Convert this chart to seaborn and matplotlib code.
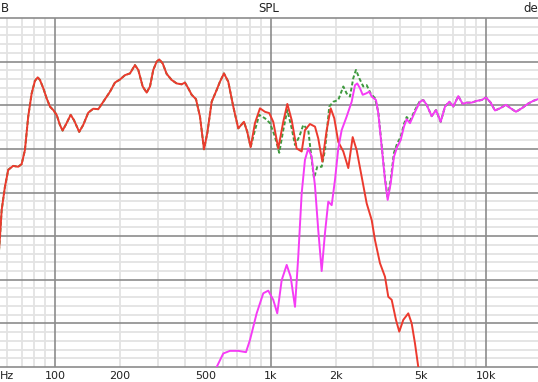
import numpy as np
import pandas as pd
import seaborn as sns
import matplotlib
matplotlib.use("Agg")
import matplotlib.pyplot as plt
from matplotlib.ticker import MultipleLocator, FixedLocator, NullFormatter, FuncFormatter

# ---------------- data ----------------
woofer_hz = [54.5, 55.4, 56.4, 58.4, 60.5, 63.8, 67.3, 69.8, 72.3, 74.9, 77.7, 80.5, 82.9, 84.9,
             88.0, 91.2, 94.5, 97.9, 101.5, 105.1, 108.2, 112.9, 117.9, 122.1, 129.2, 134.9,
             142.3, 150.1, 158.4, 167.1, 179.5, 189.3, 199.7, 210.7, 222.3, 234.4, 242.9,
             254.6, 265.7, 275.3, 285.1, 295.7, 304.0, 315.2, 328.9, 347.0, 366.1, 386.2,
             400.0, 414.5, 429.8, 450.1, 469.8, 490.3, 507.9, 532.3, 561.5, 581.6, 607.0,
             635.6, 670.5, 707.3, 751.7, 778.7, 807.4, 845.5, 891.9, 940.9, 985.1, 1028,
             1085, 1144, 1195, 1252, 1320, 1393, 1443, 1522, 1606, 1663, 1737, 1820, 1900,
             1974, 2060, 2174, 2293, 2403, 2508, 2646, 2791, 2944, 3050, 3217, 3394, 3516,
             3646, 3817, 3954, 4127, 4354, 4515, 4677, 4845, 4934]
woofer_db = [45.0, 49.9, 56.0, 61.3, 65.2, 66.1, 65.9, 66.5, 69.7, 77.4, 82.7, 85.6, 86.4, 85.8,
             83.9, 81.6, 79.7, 78.9, 77.8, 75.5, 74.2, 75.9, 77.8, 76.6, 73.9, 75.5,
             78.3, 79.2, 79.1, 80.8, 83.1, 85.2, 85.9, 86.9, 87.3, 89.2, 88.1,
             84.3, 82.9, 84.3, 88.1, 90.0, 90.5, 89.6, 87.2, 85.8, 85.0, 84.8,
             85.2, 83.9, 82.4, 81.4, 77.4, 69.9, 73.6, 80.8, 83.5, 85.4, 87.3,
             85.4, 79.7, 74.7, 76.2, 73.9, 70.4, 75.9, 79.3, 78.5, 78.2, 76.2,
             70.1, 76.2, 80.3, 76.6, 70.1, 69.4, 74.3, 75.7, 75.1, 72.4, 67.1, 74.3, 79.3,
             77.0, 71.6, 69.4, 65.6, 72.7, 69.7, 63.6, 57.5, 53.7, 49.1, 43.8, 40.7, 36.1,
             35.4, 30.8, 28.1, 30.8, 32.3, 30.0, 25.4, 20.0, 17.0]

tweeter_hz = [545.7, 561.5, 602.6, 647.1, 707.3, 768.1, 801.6, 861.0, 924.1, 974.8, 1028, 1073,
              1125, 1187, 1238, 1297, 1343, 1393, 1443, 1495, 1550, 1606, 1663, 1725, 1787,
              1851, 1920, 1989, 2060, 2136, 2253, 2377, 2463, 2523, 2598, 2674, 2770, 2870,
              2944, 3083, 3159, 3276, 3394, 3493, 3607, 3736, 3870, 4013, 4157, 4279, 4434,
              4677, 4934, 5111, 5300, 5590, 5854, 6156, 6447, 6750, 7045, 7430, 7787, 8127,
              8574, 9045, 9541, 9990, 10505, 11000, 11601, 12375, 13007, 13767, 14630,
              15700, 16560, 17420, 18770]
tweeter_db = [17.0, 20.0, 23.1, 23.7, 23.7, 23.4, 26.2, 32.3, 36.9, 37.5, 35.4, 32.3,
              39.9, 43.4, 40.7, 33.8, 45.3, 59.8, 67.5, 70.1, 68.2, 61.5, 51.4, 42.0, 50.7,
              57.9, 57.1, 62.9, 70.1, 74.3, 77.4, 80.8, 84.6, 85.0, 83.9, 82.4, 82.7, 83.1,
              82.0, 81.2, 78.2, 70.5, 62.9, 58.3, 62.1, 68.2, 70.5, 72.0, 75.1, 76.8, 75.9,
              78.5, 80.8, 81.2, 80.1, 77.5, 78.9, 76.2, 79.7, 80.8, 79.7, 82.1, 80.3, 80.6,
              80.6, 81.0, 81.2, 81.8, 80.6, 78.8, 79.3, 80.1, 79.3, 78.5, 79.3,
              80.4, 81.0, 81.4, 81.7]

sum_hz = [54.5, 55.4, 56.4, 58.4, 60.5, 63.8, 67.3, 69.8, 72.3, 74.9, 77.7, 80.5, 82.9, 84.9,
          88.0, 91.2, 94.5, 97.9, 101.5, 105.1, 108.2, 112.9, 117.9, 122.1, 129.2, 134.9,
          142.3, 150.1, 158.4, 167.1, 179.5, 189.3, 199.7, 210.7, 222.3, 234.4, 242.9,
          254.6, 265.7, 275.3, 285.1, 295.7, 304.0, 315.2, 328.9, 347.0, 366.1, 386.2,
          400.0, 414.5, 429.8, 450.1, 469.8, 490.3, 507.9, 532.3, 561.5, 581.6, 607.0,
          635.6, 670.5, 707.3, 751.7, 778.7, 807.4, 845.5, 885.3, 940.9, 992.7, 1047,
          1096, 1144, 1195, 1252, 1297, 1358, 1417, 1495, 1550, 1589, 1646, 1725, 1787,
          1871, 1953, 2060, 2174, 2253, 2334, 2418, 2489, 2578, 2691, 2791, 2913, 3050,
          3159, 3276, 3394, 3493, 3607, 3736, 3870, 4013, 4157, 4279, 4434, 4677, 4934,
          5111, 5300, 5590, 5854, 6156, 6447, 6750, 7045, 7430, 7787, 8127, 8574, 9045,
          9541, 9990, 10505, 11000, 11601, 12375, 13007, 13767, 14630, 15700, 16560,
          17420, 18770]
sum_db = [45.0, 49.9, 56.0, 61.3, 65.2, 66.1, 65.9, 66.5, 69.7, 77.4, 82.7, 85.6, 86.4, 85.8,
          83.9, 81.6, 79.7, 78.9, 77.8, 75.5, 74.2, 75.9, 77.8, 76.6, 73.9, 75.5,
          78.3, 79.2, 79.1, 80.8, 83.1, 85.2, 85.9, 86.9, 87.3, 89.2, 88.1,
          84.3, 82.9, 84.3, 88.1, 90.0, 90.5, 89.6, 87.2, 85.8, 85.0, 84.8,
          85.2, 83.9, 82.4, 81.4, 77.4, 69.9, 73.6, 80.8, 83.5, 85.4, 87.3,
          85.4, 79.7, 74.7, 76.2, 73.9, 70.4, 74.3, 77.8, 77.0, 75.9, 72.8,
          69.1, 74.3, 78.9, 74.7, 70.9, 72.8, 75.5, 74.3, 67.5, 63.3, 65.9, 65.9, 69.7,
          79.7, 80.8, 81.2, 84.3, 82.7, 82.0, 86.2, 88.1, 86.2, 84.3, 84.6, 82.7, 81.6,
          78.5, 70.9, 63.3, 58.7, 62.9, 69.1, 71.3, 72.7, 75.7, 77.3, 76.4, 78.9, 81.0,
          81.2, 80.1, 77.5, 78.9, 76.2, 79.7, 80.8, 79.7, 82.1, 80.3, 80.6, 80.6, 81.0,
          81.2, 81.8, 80.6, 78.8, 79.3, 80.1, 79.3, 78.5, 79.3, 80.4, 81.0,
          81.4, 81.7]

tick_hz = [100, 200, 500, 1000, 2000, 5000, 10000]
tick_labels = ["100", "200", "500", "1k", "2k", "5k", "10k"]

# ---------------- figure ----------------
sns.set_style("white")
plt.rcParams['font.family'] = ['DejaVu Sans']

W, H = 538, 382
fig = plt.figure(figsize=(W / 100, H / 100), dpi=100)
ax = fig.add_axes([0, 15 / H, 1, 349 / H])

df_w = pd.DataFrame({"f": woofer_hz, "db": woofer_db})
df_t = pd.DataFrame({"f": tweeter_hz, "db": tweeter_db})
df_s = pd.DataFrame({"f": sum_hz, "db": sum_db})

sns.lineplot(data=df_s, x="f", y="db", ax=ax, color="#3f9a3f", lw=1.4,
             linestyle=(0, (2.0, 1.2)), estimator=None, zorder=3)
sns.lineplot(data=df_w, x="f", y="db", ax=ax, color="#ec3a2e", lw=1.4,
             estimator=None, zorder=4)
sns.lineplot(data=df_t, x="f", y="db", ax=ax, color="#f53cf5", lw=1.4,
             estimator=None, zorder=5)

ax.set_xscale("log")
ax.set_xlim(55.4, 17420)
ax.set_ylim(20, 100)

# ticks / labels
minor_x = [m * 10 ** e for e in (1, 2, 3, 4) for m in range(2, 10)]
ax.xaxis.set_major_locator(FixedLocator([100, 1000, 10000]))
ax.xaxis.set_minor_locator(FixedLocator(minor_x))
lab = dict(zip(tick_hz, tick_labels))
fmt = FuncFormatter(lambda v, p: lab.get(int(round(v)), ""))
ax.xaxis.set_major_formatter(fmt)
ax.xaxis.set_minor_formatter(fmt)
ax.yaxis.set_major_locator(MultipleLocator(10))
ax.yaxis.set_minor_locator(MultipleLocator(2))
ax.yaxis.set_major_formatter(NullFormatter())
ax.yaxis.set_minor_formatter(NullFormatter())
ax.grid(False)

# grid drawn explicitly so major lines sit above all minor lines
for v in minor_x:
    ax.axvline(v, color="#e3e3e3", lw=1.3, zorder=0.5)
for v in range(22, 100, 2):
    if v % 10:
        ax.axhline(v, color="#e3e3e3", lw=1.3, zorder=0.5)
for v in (100, 1000, 10000):
    ax.axvline(v, color="#8c8c8c", lw=1.2, zorder=1)
for v in range(30, 100, 10):
    ax.axhline(v, color="#8c8c8c", lw=1.2, zorder=1)

ax.tick_params(which="both", length=0, labelsize=8, pad=3, colors="#222222")
ax.set_xlabel("")
ax.set_ylabel("")
for s in ("left", "right"):
    ax.spines[s].set_visible(False)
for s in ("top", "bottom"):
    ax.spines[s].set_color("#8c8c8c")
    ax.spines[s].set_linewidth(1.2)

fig.text(0.5, 1 - 9 / H, "SPL", ha="center", va="center", fontsize=8.5, color="#222222")
fig.text(0.5 / W, 1 - 9 / H, "B", ha="left", va="center", fontsize=8.5, color="#222222")
fig.text(1.0, 1 - 9 / H, "de", ha="right", va="center", fontsize=8.5, color="#222222")
fig.text(0.0, 1 - 376 / H, "Hz", ha="left", va="center", fontsize=8, color="#222222")

fig.savefig("out.png", dpi=100)
